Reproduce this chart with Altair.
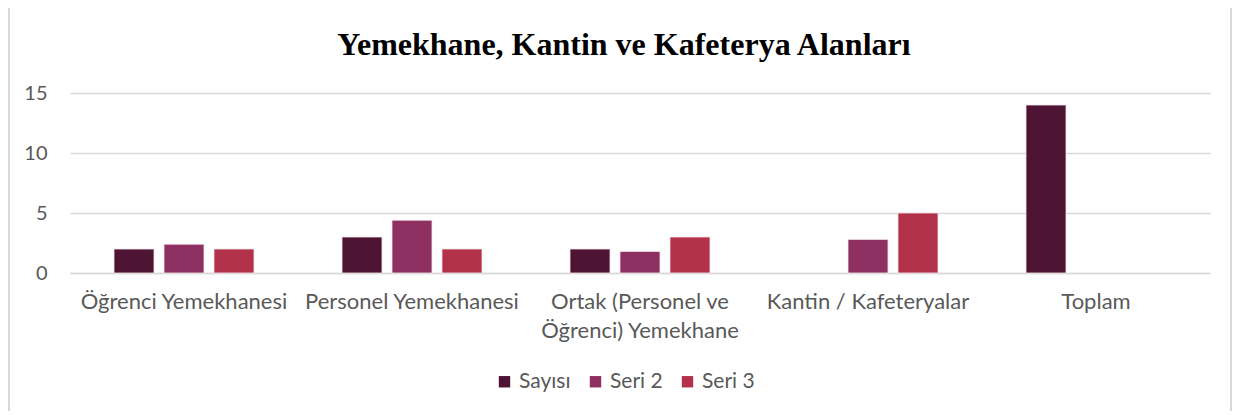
import altair as alt
import pandas as pd

categories = ["Öğrenci Yemekhanesi", "Personel Yemekhanesi",
              "Ortak (Personel ve Öğrenci) Yemekhane", "Kantin / Kafeteryalar", "Toplam"]
series_names = ["Sayısı", "Seri 2", "Seri 3"]
sayisi = [2, 3, 2, None, 14]
seri2 = [2.4, 4.4, 1.8, 2.8, None]
seri3 = [2, 2, 3, 5, None]
colors = ["#4E1433", "#8E3062", "#B1324A"]
title_text = "Yemekhane, Kantin ve Kafeterya Alanları"

rows = []
for i, c in enumerate(categories):
    for s, vals in zip(series_names, [sayisi, seri2, seri3]):
        if vals[i] is not None:
            rows.append({"Kategori": c, "Seri": s, "Değer": vals[i]})
df = pd.DataFrame(rows)

label_expr = ("datum.label == 'Ortak (Personel ve Öğrenci) Yemekhane' ? "
              "['Ortak (Personel ve', 'Öğrenci) Yemekhane'] : datum.label")

bars = alt.Chart(df).mark_bar(stroke="#f4e4ea", strokeWidth=0.8).encode(
    x=alt.X("Kategori:N", sort=categories, title=None,
            scale=alt.Scale(paddingInner=0.386, paddingOuter=0.193),
            axis=alt.Axis(labelAngle=0, labelExpr=label_expr, ticks=False,
                          domainColor="#D9D9D9", domainWidth=1.5,
                          labelFont="Lato", labelFontSize=22, labelColor="#595959",
                          labelPadding=18, labelLineHeight=29, labelLimit=400,
                          labelOverlap=False)),
    xOffset=alt.XOffset("Seri:N", sort=series_names,
                        scale=alt.Scale(paddingInner=0.2, paddingOuter=0)),
    y=alt.Y("Değer:Q", title=None,
            scale=alt.Scale(domain=[0, 15]),
            axis=alt.Axis(values=[0, 5, 10, 15], ticks=False, domain=False,
                          gridColor="#D9D9D9", gridWidth=1.3,
                          labelFont="Lato", labelFontSize=20, labelColor="#595959",
                          labelPadding=23)),
    color=alt.Color("Seri:N", sort=series_names,
                    scale=alt.Scale(domain=series_names, range=colors),
                    legend=alt.Legend(title=None, orient="none", direction="horizontal",
                                      legendX=424, legendY=278,
                                      symbolType="square", symbolSize=130,
                                      symbolStrokeWidth=0,
                                      labelFont="Lato", labelFontSize=21,
                                      labelColor="#595959", columnPadding=14,
                                      labelOffset=4)),
)

one = pd.DataFrame({"k": [0]})
frame_l = alt.Chart(one).mark_rule(color="#D9D9D9", strokeWidth=2).encode(
    x=alt.value(-61), y=alt.value(-90), y2=alt.value(330)
)
frame_r = alt.Chart(one).mark_rule(color="#D9D9D9", strokeWidth=2).encode(
    x=alt.value(1161), y=alt.value(-90), y2=alt.value(330)
)
title = alt.Chart(one).mark_text(
    font="Liberation Serif", fontSize=32, fontWeight="bold", color="#000000",
    align="center", baseline="alphabetic"
).encode(x=alt.value(554), y=alt.value(-38), text=alt.value(title_text))

chart = alt.layer(bars, frame_l, frame_r, title).properties(
    width=1140, height=180,
    autosize=alt.AutoSizeParams(type="none"),
    padding={"left": 62, "top": 85, "right": 22, "bottom": 138},
).configure(background="white").configure_view(stroke=None, strokeWidth=0)

chart.save("out.html", embed_options={"renderer": "svg", "actions": False})
